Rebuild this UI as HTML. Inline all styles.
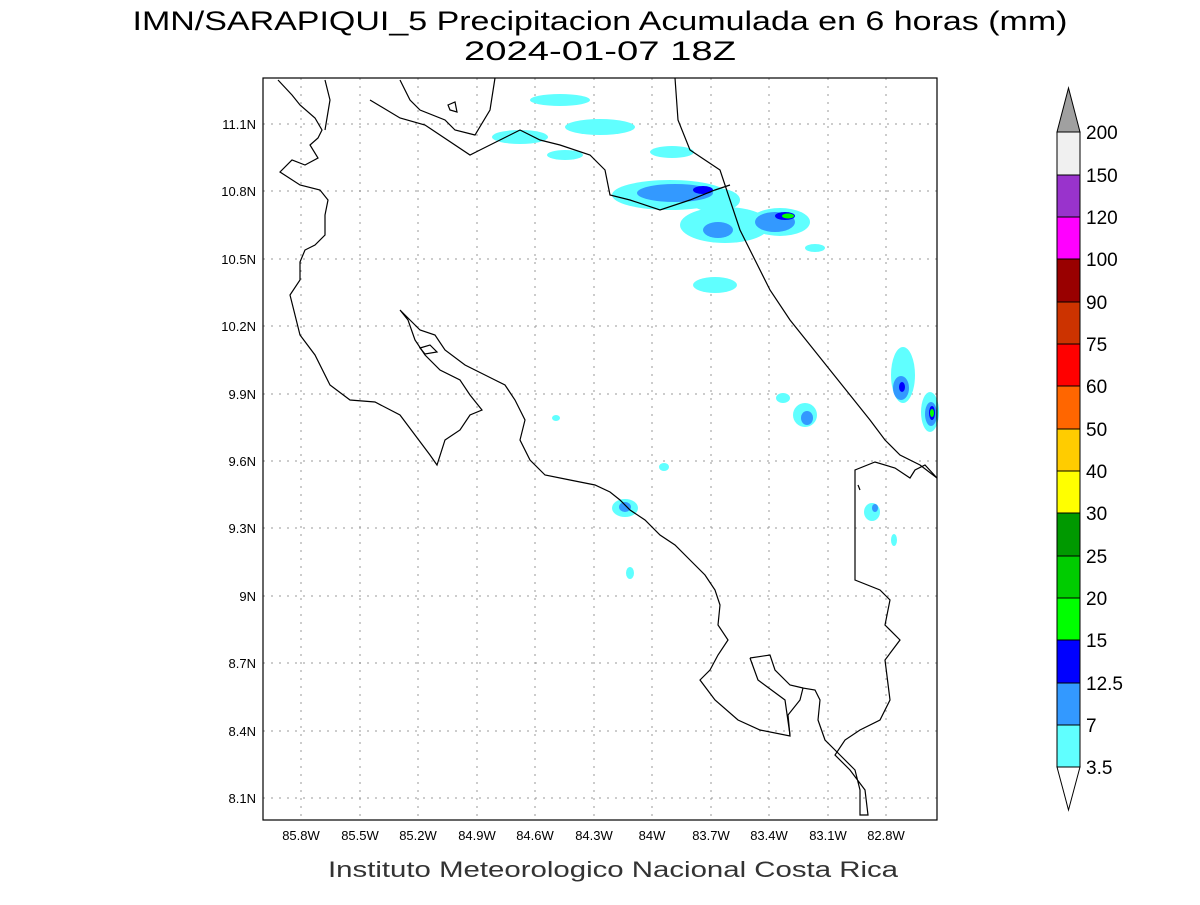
<!DOCTYPE html>
<html><head><meta charset="utf-8"><style>
body{margin:0;background:#fff;width:1200px;height:900px;overflow:hidden;font-family:"Liberation Sans",sans-serif}
</style></head><body>
<svg width="1200" height="900" xmlns="http://www.w3.org/2000/svg" font-family="Liberation Sans, sans-serif">
<rect width="1200" height="900" fill="#fff"/>
<text x="600" y="30" font-size="27" text-anchor="middle" textLength="935" lengthAdjust="spacingAndGlyphs">IMN/SARAPIQUI_5 Precipitacion Acumulada en 6 horas (mm)</text>
<text x="600" y="60" font-size="27" text-anchor="middle" textLength="272" lengthAdjust="spacingAndGlyphs">2024-01-07 18Z</text>
<!-- grid -->
<g stroke="#999" stroke-dasharray="2,6" stroke-width="1">
<line x1="301" y1="78" x2="301" y2="820"/><line x1="360" y1="78" x2="360" y2="820"/><line x1="418" y1="78" x2="418" y2="820"/><line x1="477" y1="78" x2="477" y2="820"/><line x1="535" y1="78" x2="535" y2="820"/><line x1="594" y1="78" x2="594" y2="820"/><line x1="652" y1="78" x2="652" y2="820"/><line x1="711" y1="78" x2="711" y2="820"/><line x1="769" y1="78" x2="769" y2="820"/><line x1="828" y1="78" x2="828" y2="820"/><line x1="886" y1="78" x2="886" y2="820"/>
<line x1="263" y1="124" x2="937" y2="124"/><line x1="263" y1="191" x2="937" y2="191"/><line x1="263" y1="259" x2="937" y2="259"/><line x1="263" y1="326" x2="937" y2="326"/><line x1="263" y1="394" x2="937" y2="394"/><line x1="263" y1="461" x2="937" y2="461"/><line x1="263" y1="528" x2="937" y2="528"/><line x1="263" y1="596" x2="937" y2="596"/><line x1="263" y1="663" x2="937" y2="663"/><line x1="263" y1="731" x2="937" y2="731"/><line x1="263" y1="798" x2="937" y2="798"/>
</g>
<!-- precip -->
<g fill="#60ffff">
<ellipse cx="560" cy="100" rx="30" ry="6"/><ellipse cx="600" cy="127" rx="35" ry="8"/><ellipse cx="520" cy="137" rx="28" ry="7"/><ellipse cx="565" cy="155" rx="18" ry="5"/><ellipse cx="672" cy="152" rx="22" ry="6"/>
<ellipse cx="670" cy="195" rx="58" ry="15"/><ellipse cx="715" cy="200" rx="25" ry="12"/><ellipse cx="725" cy="225" rx="45" ry="18"/><ellipse cx="780" cy="222" rx="30" ry="14"/><ellipse cx="815" cy="248" rx="10" ry="4"/><ellipse cx="715" cy="285" rx="22" ry="8"/>
<ellipse cx="903" cy="375" rx="12" ry="28"/><ellipse cx="930" cy="412" rx="9" ry="20"/><ellipse cx="805" cy="415" rx="12" ry="12"/><ellipse cx="783" cy="398" rx="7" ry="5"/><ellipse cx="625" cy="508" rx="13" ry="9"/><ellipse cx="872" cy="512" rx="8" ry="9"/><ellipse cx="630" cy="573" rx="4" ry="6"/><ellipse cx="664" cy="467" rx="5" ry="4"/><ellipse cx="556" cy="418" rx="4" ry="3"/><ellipse cx="894" cy="540" rx="3" ry="6"/>
</g>
<g fill="#3399ff">
<ellipse cx="675" cy="193" rx="38" ry="9"/><ellipse cx="718" cy="230" rx="15" ry="8"/><ellipse cx="775" cy="222" rx="20" ry="10"/><ellipse cx="901" cy="388" rx="8" ry="12"/><ellipse cx="931" cy="414" rx="6" ry="12"/><ellipse cx="807" cy="418" rx="6" ry="7"/><ellipse cx="625" cy="507" rx="6" ry="5"/><ellipse cx="875" cy="508" rx="3" ry="4"/>
</g>
<g fill="#0000ff"><ellipse cx="703" cy="190" rx="10" ry="4"/><ellipse cx="785" cy="216" rx="10" ry="4"/><ellipse cx="902" cy="387" rx="3" ry="5"/><ellipse cx="932" cy="413" rx="3" ry="7"/></g>
<g fill="#00ff00"><ellipse cx="788" cy="216" rx="6" ry="2.5"/><ellipse cx="932" cy="413" rx="2" ry="4"/></g>
<!-- coast -->
<g fill="none" stroke="#000" stroke-width="1.2">
<polyline points="278,80 292,95 300,105 315,118 322,130 318,138 310,145 318,158 305,165 292,160 280,172 300,185 320,190 328,200 325,215 325,235 315,245 305,250 300,262 300,280 290,295 295,315 300,335 315,355 330,385 350,400 375,402 400,415 415,435 430,455 437,465 445,440 460,430 470,415 482,410 470,395 460,380 440,370 425,355 415,340 408,320 400,310 410,320 420,330 435,335 445,350 465,365 485,375 495,380 505,385 515,400 525,420 520,440 530,460 545,475 570,480 595,485 610,492 620,500 630,510 645,520 660,535 675,545 690,560 705,575 715,590 720,605 718,625 728,640 718,655 710,670 700,680 715,700 738,720 760,730 790,736 788,715 800,700 803,688 815,690 820,700 818,720 825,740 840,755 855,770 860,790 860,815 868,815 865,790 850,770 835,755 845,740 860,730 880,720 890,700 885,660 900,640 885,625 890,600 880,590 855,580 855,470 875,462 895,468 910,478 915,470 925,465 937,478"/>
<polyline points="750,658 770,655 775,670 790,685 803,688"/>
<polyline points="750,658 758,680 785,700 790,735"/>
<polyline points="675,78 678,120 690,150 705,160 720,170 730,200 740,230 755,260 770,290 790,320 810,345 830,370 850,395 870,420 885,440 900,455 920,465 937,478"/>
<polyline points="325,130 330,100 325,80"/>
<polyline points="370,100 400,118 425,125 470,155 480,150 500,140 520,130 540,140 560,145 590,155 605,170 610,195 630,200 660,210 690,200 715,190 730,185"/>
<polyline points="400,80 410,100 420,110 445,120 455,130 475,135 490,110 495,78"/>
<polygon points="448,105 455,102 457,112 450,110"/>
<polygon points="420,348 430,345 437,352 425,354"/>
<polyline points="858,485 860,490"/>
</g>
<rect x="263" y="78" width="674" height="742" fill="none" stroke="#000" stroke-width="1.2"/>
<g font-size="13" text-anchor="end">
<text x="256" y="129">11.1N</text><text x="256" y="196">10.8N</text><text x="256" y="264">10.5N</text><text x="256" y="331">10.2N</text><text x="256" y="399">9.9N</text><text x="256" y="466">9.6N</text><text x="256" y="533">9.3N</text><text x="256" y="601">9N</text><text x="256" y="668">8.7N</text><text x="256" y="736">8.4N</text><text x="256" y="803">8.1N</text>
</g>
<g font-size="13" text-anchor="middle">
<text x="301" y="840">85.8W</text><text x="360" y="840">85.5W</text><text x="418" y="840">85.2W</text><text x="477" y="840">84.9W</text><text x="535" y="840">84.6W</text><text x="594" y="840">84.3W</text><text x="652" y="840">84W</text><text x="711" y="840">83.7W</text><text x="769" y="840">83.4W</text><text x="828" y="840">83.1W</text><text x="886" y="840">82.8W</text>
</g>
<text x="613" y="877" font-size="22" text-anchor="middle" fill="#333" textLength="570" lengthAdjust="spacingAndGlyphs">Instituto Meteorologico Nacional Costa Rica</text>
<!-- colorbar -->
<g stroke="#000" stroke-width="1">
<polygon points="1057,132 1080,132 1068.5,88" fill="#a0a0a0"/>
<rect x="1057" y="132" width="23" height="43" fill="#f0f0f0"/>
<rect x="1057" y="175" width="23" height="42" fill="#9933cc"/>
<rect x="1057" y="217" width="23" height="42" fill="#ff00ff"/>
<rect x="1057" y="259" width="23" height="43" fill="#990000"/>
<rect x="1057" y="302" width="23" height="42" fill="#cc3300"/>
<rect x="1057" y="344" width="23" height="42" fill="#ff0000"/>
<rect x="1057" y="386" width="23" height="43" fill="#ff6600"/>
<rect x="1057" y="429" width="23" height="42" fill="#ffcc00"/>
<rect x="1057" y="471" width="23" height="42" fill="#ffff00"/>
<rect x="1057" y="513" width="23" height="43" fill="#009900"/>
<rect x="1057" y="556" width="23" height="42" fill="#00cc00"/>
<rect x="1057" y="598" width="23" height="42" fill="#00ff00"/>
<rect x="1057" y="640" width="23" height="43" fill="#0000ff"/>
<rect x="1057" y="683" width="23" height="42" fill="#3399ff"/>
<rect x="1057" y="725" width="23" height="42" fill="#60ffff"/>
<polygon points="1057,767 1080,767 1068.5,810" fill="#fff"/>
</g>
<g font-size="19">
<text x="1086" y="139">200</text><text x="1086" y="182">150</text><text x="1086" y="224">120</text><text x="1086" y="266">100</text><text x="1086" y="309">90</text><text x="1086" y="351">75</text><text x="1086" y="393">60</text><text x="1086" y="436">50</text><text x="1086" y="478">40</text><text x="1086" y="520">30</text><text x="1086" y="563">25</text><text x="1086" y="605">20</text><text x="1086" y="647">15</text><text x="1086" y="690">12.5</text><text x="1086" y="732">7</text><text x="1086" y="774">3.5</text>
</g>
</svg>
</body></html>
